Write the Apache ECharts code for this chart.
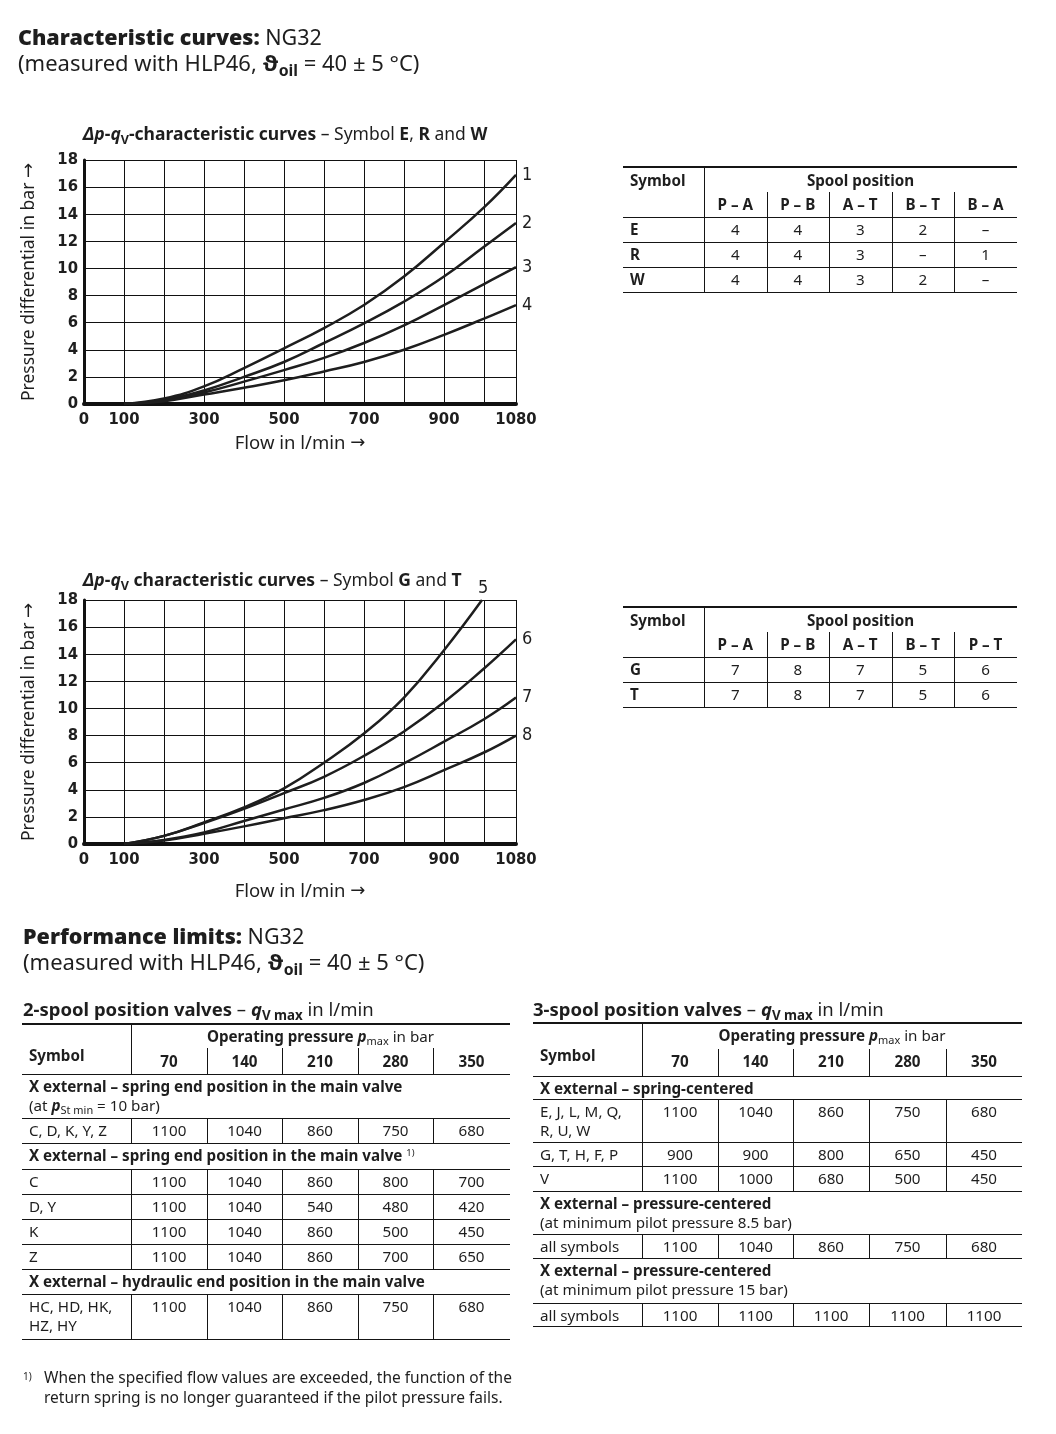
<!DOCTYPE html>
<html><head><meta charset="utf-8">
<script src="https://cdn.jsdelivr.net/npm/echarts/dist/echarts.min.js"></script>
<style>
html,body{margin:0;padding:0;background:#fff;}
#page{position:relative;width:1056px;height:1434px;overflow:hidden;font-family:'Noto Sans','Open Sans',sans-serif;color:#1e1e1e;}
#chart{position:absolute;left:0;top:0;width:1056px;height:1434px;}
.t{position:absolute;white-space:nowrap;line-height:19.5px;font-size:15.2px;z-index:2;}
sub{font-size:0.72em;vertical-align:-0.3em;line-height:0;}
sup{font-size:0.62em;vertical-align:0.5em;line-height:0;}
.ln{position:absolute;background:#151515;z-index:2;}
</style>
</head><body><div id="page"><div id="chart"></div></div>
<script>
// ---------------- DATA ----------------
const flowQ = [100, 200, 300, 400, 500, 600, 700, 800, 900, 1000, 1080];
const dp1 = [0, 0.4, 1.3, 2.65, 4.1, 5.6, 7.3, 9.4, 11.9, 14.5, 16.9];
const dp2 = [0, 0.3, 1.0, 2.0, 3.1, 4.5, 5.95, 7.55, 9.4, 11.6, 13.35];
const dp3 = [0, 0.25, 0.85, 1.65, 2.5, 3.4, 4.5, 5.8, 7.3, 8.85, 10.1];
const dp4 = [0, 0.2, 0.7, 1.2, 1.75, 2.4, 3.1, 4.0, 5.1, 6.3, 7.3];
const flowQ5 = [100, 200, 300, 400, 500, 600, 700, 800, 900, 995];
const dp5 = [0, 0.6, 1.6, 2.7, 4.1, 6.0, 8.15, 10.8, 14.3, 18];
const dp6 = [0, 0.6, 1.55, 2.6, 3.75, 4.96, 6.5, 8.3, 10.45, 12.95, 15.1];
const dp7 = [0, 0.3, 0.85, 1.7, 2.55, 3.4, 4.5, 5.95, 7.55, 9.2, 10.8];
const dp8 = [0, 0.25, 0.75, 1.3, 1.9, 2.5, 3.25, 4.2, 5.45, 6.75, 8.0];
const xTickLabels = [0, 100, 300, 500, 700, 900, 1080];

const spoolCols1 = ['P – A', 'P – B', 'A – T', 'B – T', 'B – A'];
const spoolRows1 = [['E', '4', '4', '3', '2', '–'], ['R', '4', '4', '3', '–', '1'], ['W', '4', '4', '3', '2', '–']];
const spoolCols2 = ['P – A', 'P – B', 'A – T', 'B – T', 'P – T'];
const spoolRows2 = [['G', '7', '8', '7', '5', '6'], ['T', '7', '8', '7', '5', '6']];

const pressures = ['70', '140', '210', '280', '350'];
const twoSpoolRows = [
  ['sec', '<b>X external – spring end position in the main valve</b><br>(at <b><i>p</i></b><sub>St min</sub> = 10 bar)'],
  ['row', 'C, D, K, Y, Z', ['1100', '1040', '860', '750', '680']],
  ['sec', '<b>X external – spring end position in the main valve</b> <sup>1)</sup>'],
  ['row', 'C', ['1100', '1040', '860', '800', '700']],
  ['row', 'D, Y', ['1100', '1040', '540', '480', '420']],
  ['row', 'K', ['1100', '1040', '860', '500', '450']],
  ['row', 'Z', ['1100', '1040', '860', '700', '650']],
  ['sec', '<b>X external – hydraulic end position in the main valve</b>'],
  ['row', 'HC, HD, HK,<br>HZ, HY', ['1100', '1040', '860', '750', '680']]
];
const threeSpoolRows = [
  ['sec', '<b>X external – spring-centered</b>'],
  ['row', 'E, J, L, M, Q,<br>R, U, W', ['1100', '1040', '860', '750', '680']],
  ['row', 'G, T, H, F, P', ['900', '900', '800', '650', '450']],
  ['row', 'V', ['1100', '1000', '680', '500', '450']],
  ['sec', '<b>X external – pressure-centered</b><br>(at minimum pilot pressure 8.5 bar)'],
  ['row', 'all symbols', ['1100', '1040', '860', '750', '680']],
  ['sec', '<b>X external – pressure-centered</b><br>(at minimum pilot pressure 15 bar)'],
  ['row', 'all symbols', ['1100', '1100', '1100', '1100', '1100']]
];

// ---------------- HTML TEXT / TABLES ----------------
const page = document.getElementById('page');
function txt(html, x, cy, o = {}) {
  const d = document.createElement('div');
  d.className = 't';
  d.innerHTML = html;
  d.style.left = x + 'px';
  d.style.top = (cy - 9.75) + 'px';
  if (o.center) d.style.transform = 'translateX(-50%)';
  if (o.size) d.style.fontSize = o.size + 'px';
  if (o.lh) { d.style.lineHeight = o.lh + 'px'; d.style.top = (cy - o.lh / 2) + 'px'; }
  page.appendChild(d);
  return d;
}
function rect(x, y, w, h) {
  const d = document.createElement('div');
  d.className = 'ln';
  d.style.cssText += `left:${x}px;top:${y}px;width:${w}px;height:${h}px;`;
  page.appendChild(d);
}
function hline(x1, x2, y, t = 1) { rect(Math.round(x1), Math.round(y - t / 2), Math.round(x2 - x1), t); }
function vline(x, y1, y2) { rect(Math.round(x), Math.round(y1), 1, Math.round(y2 - y1)); }

// Titles
txt('<b style="font-weight:900">Characteristic curves:</b> NG32', 18, 37, { size: 21.5, lh: 26 });
txt('(measured with HLP46, <b>ϑ<sub>oil</sub></b> = 40 ± 5 °C)', 18, 62, { size: 22, lh: 26 });
txt('<b><i>Δp</i>-<i>q</i><sub>V</sub>-characteristic curves</b> – Symbol <b>E</b>, <b>R</b> and <b>W</b>', 83, 133, { size: 17.5, lh: 22 });
txt('<b><i>Δp</i>-<i>q</i><sub>V</sub> characteristic curves</b> – Symbol <b>G</b> and <b>T</b>', 83, 579, { size: 17.5, lh: 22 });
txt('<b style="font-weight:900">Performance limits:</b> NG32', 23, 936, { size: 21.5, lh: 26 });
txt('(measured with HLP46, <b>ϑ<sub>oil</sub></b> = 40 ± 5 °C)', 23, 961, { size: 22, lh: 26 });
txt('<b>2-spool position valves</b> – <b><i>q</i><sub>V max</sub></b> in l/min', 23, 1009, { size: 18.5, lh: 22 });
txt('<b>3-spool position valves</b> – <b><i>q</i><sub>V max</sub></b> in l/min', 533, 1009, { size: 18.5, lh: 22 });
txt('<sup style="font-size:10px">1)</sup>', 23, 1380, { size: 15 });
txt('When the specified flow values are exceeded, the function of the<br>return spring is no longer guaranteed if the pilot pressure fails.', 44, 1377, { size: 15.5, lh: 20 });

// Spool tables
function spoolTable(top, cols, rows) {
  const xs = [623, 704, 766.5, 829, 891.5, 954, 1017];
  const bottom = top + 50 + rows.length * 25;
  hline(xs[0], xs[6], top, 2);
  vline(xs[1], top, bottom);
  for (let c = 2; c < 6; c++) vline(xs[c], top + 25, bottom);
  txt('<b>Symbol</b>', 630, top + 14);
  txt('<b>Spool position</b>', (xs[1] + xs[6]) / 2, top + 14, { center: true });
  cols.forEach((h, i) => txt('<b>' + h + '</b>', (xs[i + 1] + xs[i + 2]) / 2, top + 38, { center: true }));
  hline(xs[0], xs[6], top + 50);
  rows.forEach((r, ri) => {
    const y0 = top + 50 + ri * 25;
    txt('<b>' + r[0] + '</b>', 630, y0 + 12.5);
    for (let c = 1; c < 6; c++) txt(r[c], (xs[c] + xs[c + 1]) / 2, y0 + 12.5, { center: true });
    hline(xs[0], xs[6], y0 + 25);
  });
}
spoolTable(167, spoolCols1, spoolRows1);
spoolTable(607, spoolCols2, spoolRows2);

// Performance tables
function perfTable(xs, top, subTop, headBottom, rowBottoms, rows, hdrY, numY) {
  const L = xs[0], R = xs[xs.length - 1];
  hline(L, R, top, 2);
  vline(xs[1], top, headBottom);
  for (let c = 2; c < 6; c++) vline(xs[c], subTop, headBottom);
  txt('<b>Symbol</b>', L + 7, 1056);
  txt('<b>Operating pressure <i>p</i></b><sub>max</sub> in bar', (xs[1] + R) / 2, hdrY, { center: true });
  pressures.forEach((p, i) => txt('<b>' + p + '</b>', (xs[i + 1] + xs[i + 2]) / 2, numY, { center: true }));
  hline(L, R, headBottom);
  let y0 = headBottom;
  rows.forEach((r, ri) => {
    const y1 = rowBottoms[ri];
    txt(r[1], L + 7, y0 + 12.5);
    if (r[0] === 'row') {
      r[2].forEach((v, i) => txt(v, (xs[i + 1] + xs[i + 2]) / 2, y0 + 12.5, { center: true }));
      for (let c = 1; c < 6; c++) vline(xs[c], y0, y1);
    }
    hline(L, R, y1);
    y0 = y1;
  });
}
perfTable([22, 131, 207, 282, 358, 433, 510], 1024, 1048, 1074,
  [1118, 1143, 1169, 1194, 1219, 1244, 1269, 1294, 1339], twoSpoolRows, 1037, 1061.5);
perfTable([533, 642, 718, 793, 869, 946, 1022], 1023, 1049, 1076,
  [1099, 1142, 1166, 1191, 1234, 1258, 1303, 1326], threeSpoolRows, 1036, 1062);

// ---------------- ECHARTS ----------------
const narrow = "'Liberation Sans Narrow','DejaVu Sans Condensed','Liberation Sans',sans-serif";
const ink = '#1e1e1e';
const arrowRich = { a: { fontFamily: 'DejaVu Sans', fontSize: 18, color: ink } };
function xAxis(gi, gap) {
  return {
    gridIndex: gi, type: 'value', min: 0, max: 1080, interval: 100,
    name: 'Flow in l/min {a|→}', nameLocation: 'middle', nameGap: gap,
    nameTextStyle: { fontFamily: 'Noto Sans', fontSize: 18.5, color: ink, rich: arrowRich },
    axisLine: { show: true, onZero: false, lineStyle: { color: '#111', width: 4 } },
    axisTick: { show: false },
    axisLabel: {
      margin: 7, showMinLabel: true, showMaxLabel: true, hideOverlap: false,
      fontFamily: narrow, fontWeight: 'bold', fontSize: 16.5, color: ink,
      formatter: v => (xTickLabels.indexOf(v) >= 0 ? String(v) : '')
    },
    splitLine: { show: true, lineStyle: { color: '#111', width: 1 } }
  };
}
function yAxis(gi) {
  return {
    gridIndex: gi, type: 'value', min: 0, max: 18, interval: 2,
    name: 'Pressure differential in bar {a|→}', nameLocation: 'middle', nameGap: 46,
    nameTextStyle: { fontFamily: 'Noto Sans', fontSize: 17.5, color: ink, rich: arrowRich },
    axisLine: { show: true, onZero: false, lineStyle: { color: '#111', width: 3 } },
    axisTick: { show: false },
    axisLabel: { margin: 6, showMinLabel: true, showMaxLabel: true, fontFamily: narrow, fontWeight: 'bold', fontSize: 16.5, color: ink },
    splitLine: { show: true, lineStyle: { color: '#111', width: 1 } }
  };
}
function curve(name, xs, ys, gi, offset) {
  return {
    type: 'line', name: name, xAxisIndex: gi, yAxisIndex: gi,
    data: xs.map((x, i) => [x, ys[i]]),
    smooth: 0.45, symbol: 'none', clip: true, z: 5,
    lineStyle: { color: ink, width: 2.5 },
    endLabel: { show: true, formatter: name, distance: 6, offset: offset || [0, 0], fontFamily: narrow, fontSize: 18, color: ink },
    emphasis: { disabled: true }
  };
}
const chart = echarts.init(document.getElementById('chart'), null, { renderer: 'canvas' });
chart.setOption({
  animation: false,
  backgroundColor: 'transparent',
  grid: [
    { left: 84, top: 160, width: 432, height: 244, containLabel: false },
    { left: 84, top: 600, width: 432, height: 244, containLabel: false }
  ],
  xAxis: [xAxis(0, 30), xAxis(1, 38)],
  yAxis: [yAxis(0), yAxis(1)],
  series: [
    curve('1', flowQ, dp1, 0), curve('2', flowQ, dp2, 0), curve('3', flowQ, dp3, 0), curve('4', flowQ, dp4, 0),
    curve('5', flowQ5, dp5, 1, [-10, -12]), curve('6', flowQ, dp6, 1), curve('7', flowQ, dp7, 1), curve('8', flowQ, dp8, 1)
  ]
});
</script></body></html>
